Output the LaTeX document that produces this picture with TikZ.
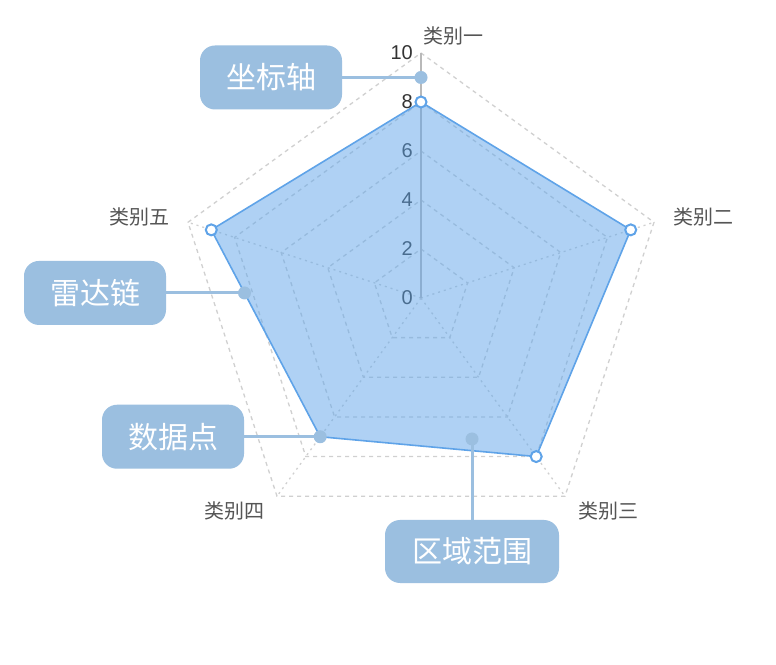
\documentclass[tikz,border=0pt]{standalone}
\usepackage{fontspec}
\setmainfont{Noto Sans CJK SC}
\newfontfamily\numfont{Liberation Sans}
\usetikzlibrary{calc}
\definecolor{callblue}{RGB}{155,191,224}
\definecolor{lineblue}{RGB}{95,163,232}
\definecolor{areafill}{RGB}{96,165,234}
\definecolor{gridgray}{RGB}{208,208,208}
\definecolor{axisgray}{RGB}{185,185,185}
\definecolor{catgray}{RGB}{85,85,85}
\definecolor{numgray}{RGB}{51,51,51}
\begin{document}
\begin{tikzpicture}[x=1pt,y=1pt,
  gridline/.style={draw=gridgray, line width=1.3pt, dash pattern=on 4pt off 4pt},
  spokeline/.style={draw=gridgray, line width=1.3pt, dash pattern=on 2pt off 4pt},
  axisline/.style={draw=axisgray, line width=1.3pt},
  callout/.style={fill=callblue, rounded corners=15pt, minimum width=142pt, minimum height=64pt, text=white, font=\fontsize{30}{32}\selectfont, inner sep=0pt},
  cline/.style={draw=callblue, line width=3pt},
  cdot/.style={circle, fill=callblue, inner sep=0pt, minimum size=13pt},
  marker/.style={circle, draw=lineblue, fill=white, line width=2pt, inner sep=0pt, minimum size=11pt},
  cat/.style={text=catgray, font=\fontsize{20}{22}\selectfont, inner sep=0pt},
  num/.style={text=numgray, font=\numfont\fontsize{20}{22}\selectfont, anchor=east, inner sep=0pt}]
\useasboundingbox (0,0) rectangle (776,664);
\fill[white] (0,0) rectangle (776,664);
\coordinate (O) at (421,366);
% grid pentagons
\foreach \k in {1,...,5} {
  \draw[gridline] ([shift={(90:\k*49)}]O) -- ([shift={(18:\k*49)}]O) -- ([shift={(-54:\k*49)}]O) -- ([shift={(-126:\k*49)}]O) -- ([shift={(162:\k*49)}]O) -- cycle;
}
% spokes
\foreach \a/\n in {18/2,-54/3,-126/4,162/5} {
  \coordinate (v\n) at ([shift={(\a:245)}]O);
  \draw[spokeline] (O) -- (v\n);
}
\coordinate (v1) at ([shift={(90:245)}]O);
\draw[axisline] (O) -- (v1);
% axis numbers
\foreach \v in {0,2,4,6,8,10} {
  \node[num] (n\v) at ([shift={(-8,24.5*\v)}]O) {\v};
}
% category labels
\node[cat] (k1) at (453,628) {类别一};
\node[cat] (k2) at (703,447) {类别二};
\node[cat] (k3) at (608,153) {类别三};
\node[cat] (k4) at (234,153) {类别四};
\node[cat] (k5) at (139,447) {类别五};
% data
\coordinate (p1) at ([shift={(90:196)}]O);
\coordinate (p2) at ([shift={(18:220.5)}]O);
\coordinate (p3) at ([shift={(-54:196)}]O);
\coordinate (p4) at ([shift={(-126:171.5)}]O);
\coordinate (p5) at ([shift={(162:220.5)}]O);
\fill[areafill, fill opacity=0.5] (p1) -- (p2) -- (p3) -- (p4) -- (p5) -- cycle;
\draw[lineblue, line width=1.6pt, line join=round] (p1) -- (p2) -- (p3) -- (p4) -- (p5) -- cycle;
\foreach \i in {1,2,3,5} { \node[marker] (m\i) at (p\i) {}; }
% callouts
\node[cdot] (d1) at ([shift={(0,220.5)}]O) {};
\coordinate (x1) at (271,0);
\node[callout] (c1) at (d1 -| x1) {坐标轴};
\draw[cline] (c1.east) -- (d1.center);

\node[cdot] (d2) at ($(p5)!0.305!(p4)$) {};
\coordinate (x2) at (95,0);
\node[callout] (c2) at (d2 -| x2) {雷达链};
\draw[cline] (c2.east) -- (d2.center);

\node[cdot] (d3) at (p4) {};
\coordinate (x3) at (173,0);
\node[callout] (c3) at (d3 -| x3) {数据点};
\draw[cline] (c3.east) -- (d3.center);

\node[cdot] (d4) at (472,225) {};
\coordinate (y4) at (0,112.5);
\node[callout, minimum width=174pt, minimum height=63pt] (c4) at (d4 |- y4) {区域范围};
\draw[cline] (c4.north) -- (d4.center);
\end{tikzpicture}
\end{document}
